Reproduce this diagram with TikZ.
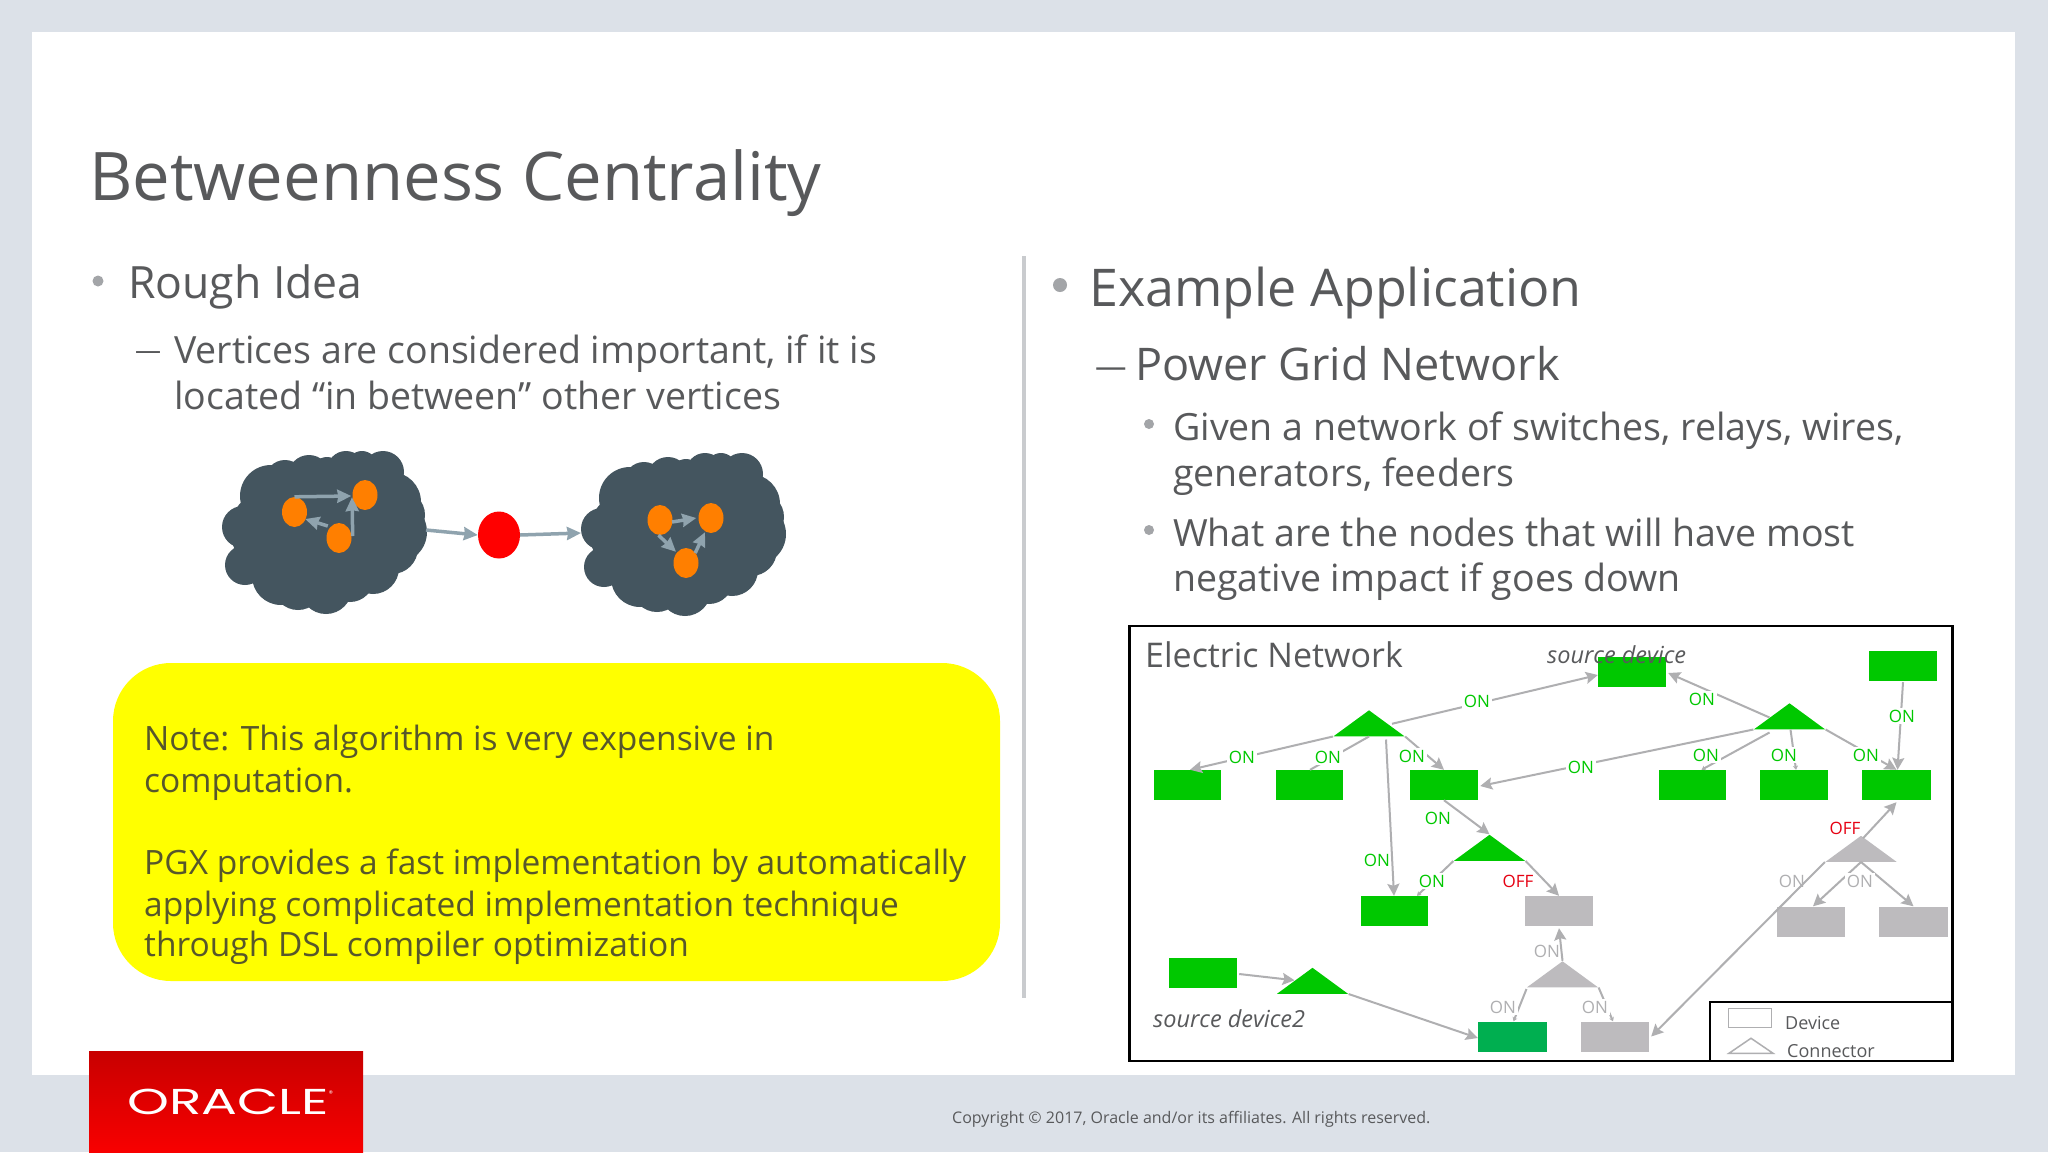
\documentclass[tikz,border=0pt]{standalone}
\usepackage{fontspec}
\usepackage{graphicx}
\setmainfont{Open Sans}
\newfontfamily\logofont{Poppins}
\usetikzlibrary{shapes.geometric,arrows.meta}
\definecolor{pagegray}{HTML}{DCE1E8}
\definecolor{textgray}{HTML}{58595B}
\definecolor{notetext}{HTML}{57572B}
\definecolor{noteyellow}{RGB}{255,255,0}
\definecolor{rulegray}{HTML}{C9CBCE}
\definecolor{bulletgray}{HTML}{A3A5A8}
\definecolor{netgreen}{HTML}{00C800}
\definecolor{darkgreen}{HTML}{00AF50}
\definecolor{offgray}{HTML}{BDBBBE}
\definecolor{linegray}{HTML}{AFAFB1}
\definecolor{offred}{HTML}{E60012}
\definecolor{cloudgray}{HTML}{44555F}
\definecolor{pathblue}{HTML}{8FA3AE}
\definecolor{hotorange}{HTML}{FF7F00}
\definecolor{hotred}{RGB}{255,0,0}
\definecolor{logotop}{HTML}{C80000}
\definecolor{logobottom}{HTML}{F80000}
\tikzset{puffcloud/.pic={
    \foreach \cx/\cy/\cr in {243/527/21, 245/565/20, 281/576/29, 326/588/26, 373/568/26, 396/532/31, 391/502/30, 383/472/21, 346/470/19, 309/476/21, 271/496/31, 320/530/62, 270/530/40, 360/520/45, 258/548/22, 298/585/25, 350/578/24, 392/548/26, 400/515/25, 362/466/15, 327/472/15, 285/480/20}
        \fill [cloudgray] (\cx,\cy) circle (\cr pt);
}}
\begin{document}
\begin{tikzpicture}[x=1pt, y=-1pt, every node/.style={inner sep=0pt}]
    % Styles
    \tikzstyle{device} = [rectangle, minimum width=67, minimum height=30, fill=netgreen]
    \tikzstyle{devoff} = [device, fill=offgray]
    \tikzstyle{connector} = [isosceles triangle, isosceles triangle stretches, shape border rotate=90, minimum width=71, minimum height=26, anchor=lower side, fill=netgreen]
    \tikzstyle{connoff} = [connector, fill=offgray]
    \tikzstyle{link} = [draw=linegray, line width=2pt, -{Stealth[length=12pt,width=12pt,inset=2pt]}]
    \tikzstyle{stub} = [draw=linegray, line width=2pt, -{Stealth[length=4pt,width=5pt,inset=1pt]}]
    \tikzstyle{onlabel} = [font=\fontsize{17}{20}\selectfont, text=netgreen, fill=white, inner sep=1.5pt]
    \tikzstyle{offlabel} = [onlabel, text=offred]
    \tikzstyle{greylabel} = [onlabel, text=linegray]
    \tikzstyle{bare} = [greylabel, fill=none]
    \tikzstyle{title} = [anchor=base west, text=textgray, font=\fontsize{67}{72}\selectfont]
    \tikzstyle{levelone} = [anchor=base west, text=textgray, font=\fontsize{52}{60}\selectfont]
    \tikzstyle{leveltwo} = [anchor=base west, text=textgray, font=\fontsize{45}{52}\selectfont]
    \tikzstyle{body} = [anchor=base west, text=textgray, font=\fontsize{37.5}{44}\selectfont]
    \tikzstyle{note} = [anchor=base west, text=notetext, font=\fontsize{33.5}{40}\selectfont]
    \tikzstyle{dot} = [circle, minimum size=11, fill=bulletgray]
    \tikzstyle{hub} = [ellipse, minimum width=25, minimum height=30, fill=hotorange]
    \tikzstyle{flow} = [draw=pathblue, line width=3.5pt, -{Stealth[length=14pt,width=13pt,inset=1pt]}]
    \tikzstyle{caption} = [anchor=base west, text=textgray, font=\itshape\fontsize{23.5}{28}\selectfont]
    \tikzstyle{legend} = [anchor=base west, text=textgray, font=\fontsize{18}{22}\selectfont]

    % Slide
    \node (page) [rectangle, minimum width=2048, minimum height=1152, fill=pagegray] at (1024,576) {};
    \node (sheet) [rectangle, minimum width=1983, minimum height=1043, fill=white] at (1023.5,553.5) {};
    \useasboundingbox (0,0) rectangle (2048,1152);
    \node (logo) [rectangle, minimum width=274, minimum height=101, top color=logotop, bottom color=logobottom] at (226,1101.5) {};
    \node (oracle) [anchor=base west, text=white, font=\logofont\fontsize{36}{40}\selectfont] at (127,1114) {\scalebox{1.48}[1]{ORACLE}\raisebox{18pt}{\fontsize{8}{8}\selectfont ®}};
    \node (copyright) [anchor=base west, text=textgray, font=\fontsize{16}{20}\selectfont] at (952,1123) {Copyright © 2017, Oracle and/or its affiliates. All rights reserved.};
    \node (heading) [title] at (89,200) {Betweenness Centrality};
    \node (divider) [rectangle, minimum width=4, minimum height=742, fill=rulegray] at (1024,627) {};

    % Left column
    \node (dotidea) [dot] at (98,281) {};
    \node (idea) [levelone, font=\fontsize{44.5}{52}\selectfont] at (128,298) {Rough Idea};
    \node (dashidea) [body, font=\fontsize{26}{30}\selectfont] at (135,359) {—};
    \node (ideaa) [body] at (174,363) {Vertices are considered important, if it is};
    \node (ideab) [body] at (174,409) {located “in between” other vertices};

    % Clouds
    \pic at (0,0) {puffcloud};
    \pic at (359,2) {puffcloud};
    \node (oa) [hub] at (294.5,512) {};
    \node (ob) [hub] at (365,495) {};
    \node (oc) [hub] at (339,538) {};
    \node (pa) [hub] at (660,520) {};
    \node (pb) [hub] at (711,518) {};
    \node (pc) [hub] at (686,563) {};
    \node (centre) [ellipse, minimum width=42, minimum height=47, fill=hotred] at (499,535) {};
    \coordinate (cloudout) at (426,530);
    \coordinate (cloudin) at (581,533);
    \draw [flow] (oa.north) -- ([xshift=-1pt,yshift=-1pt]ob.west);
    \draw [flow] ([xshift=1pt,yshift=2pt]oc.east) -- ([xshift=-13pt,yshift=13pt]ob.south);
    \draw [flow] ([xshift=1.5pt,yshift=12pt]oc.west) -- ([xshift=-2pt,yshift=-7pt]oa.east);
    \draw [flow] (cloudout) -- (centre.west);
    \draw [flow] (centre.east) -- (cloudin);
    \draw [flow] ([xshift=12pt,yshift=-2pt]pa.center) -- ([xshift=-2pt]pb.west);
    \draw [flow] ([xshift=-1.5pt]pa.south) -- ([xshift=-10pt,yshift=-4pt]pc.north);
    \draw [flow] ([xshift=-3.5pt,yshift=10pt]pc.east) -- ([xshift=-6pt,yshift=1pt]pb.south);

    % Note
    \node (notebox) [rectangle, rounded corners=58, minimum width=887, minimum height=318, fill=noteyellow] at (556.5,822) {};
    \node (notea) [note] at (144,750) {Note: This algorithm is very expensive in};
    \node (noteb) [note] at (144,792) {computation.};
    \node (notec) [note] at (144,874) {PGX provides a fast implementation by automatically};
    \node (noted) [note] at (144,916) {applying complicated implementation technique};
    \node (notee) [note] at (144,956) {through DSL compiler optimization};

    % Right column
    \node (dotapp) [dot, minimum size=14] at (1060,285) {};
    \node (app) [levelone] at (1089,306) {Example Application};
    \node (dashgrid) [leveltwo, font=\fontsize{31.5}{36}\selectfont] at (1095,377) {—};
    \node (grid) [leveltwo] at (1135,380) {Power Grid Network};
    \node (dotgiven) [dot, minimum size=10] at (1149,424) {};
    \node (givena) [body] at (1173,440) {Given a network of switches, relays, wires,};
    \node (givenb) [body] at (1173,486) {generators, feeders};
    \node (dotwhat) [dot, minimum size=10] at (1149,530) {};
    \node (whata) [body] at (1173,546) {What are the nodes that will have most};
    \node (whatb) [body] at (1173,591) {negative impact if goes down};

    % Network frame
    \node (frame) [rectangle, draw=black, line width=2.5pt, minimum width=823, minimum height=435] at (1541,843.5) {};
    \node (nettitle) [anchor=base west, text=textgray, font=\fontsize{34}{40}\selectfont] at (1145,667) {Electric Network};

    % Devices
    \node (da) [device] at (1187,785) {};
    \node (db) [device] at (1309,785) {};
    \node (dc) [device, minimum width=68] at (1444,785) {};
    \node (dd) [device] at (1394,911) {};
    \node (de) [devoff, minimum width=68] at (1559,911) {};
    \node (source) [device, minimum width=68] at (1632,672) {};
    \node (df) [device, minimum width=68] at (1903,666) {};
    \node (dg) [device] at (1692.5,785) {};
    \node (dh) [device, minimum width=68] at (1794,785) {};
    \node (di) [device, minimum width=69] at (1896.5,785) {};
    \node (dj) [devoff, minimum width=68] at (1811,921.5) {};
    \node (dk) [devoff, minimum width=69] at (1913.5,921.5) {};
    \node (sourceb) [device, minimum width=68] at (1203,972.5) {};
    \node (dl) [device, minimum width=69, fill=darkgreen] at (1512.5,1036.5) {};
    \node (dm) [devoff, minimum width=68] at (1615,1036.5) {};

    % Connectors
    \node (ta) [connector] at (1369,736.5) {};
    \node (tb) [connector] at (1489.5,861) {};
    \node (tc) [connector] at (1789.5,729.5) {};
    \node (td) [connoff] at (1861,862) {};
    \node (te) [connoff] at (1562.5,987.5) {};
    \node (tf) [connector] at (1312.5,994) {};

    % Arrows
    \draw [link] ([xshift=23pt,yshift=-14pt]ta.apex) -- ([yshift=-3pt]source.west);
    \draw [link] (ta.left corner) -- ([xshift=3pt]da.north);
    \draw [draw=linegray, line width=2pt] (ta.lower side) -- ([xshift=1pt]db.north);
    \draw [link] (ta.right corner) -- (dc.north);
    \draw [link] ([xshift=17pt,yshift=-3pt]ta.lower side) -- (dd.north);
    \draw [link] (dc.south) -- (tb.apex);
    \draw [link] (tc.left corner) -- ([xshift=2pt,yshift=-1pt]dc.east);
    \draw [link] ([xshift=-20pt,yshift=12pt]tc.lower side) -- ([xshift=2pt,yshift=-1pt]source.east);
    \draw [stub] ([xshift=-20pt,yshift=-3pt]tc.lower side) -- ([xshift=9pt]dg.north);
    \draw [stub] ([xshift=1pt]tc.lower side) -- ([xshift=2pt]dh.north);
    \draw [link] (tc.right corner) -- (di.north);
    \draw [link] ([yshift=-1pt]df.south) -- ([xshift=1pt]di.north);
    \draw [link] ([xshift=2pt,yshift=-3pt]td.apex) -- ([yshift=-2pt]di.south);
    \draw [link] (td.left corner) -- ([xshift=2pt]dm.east);
    \draw [link] (td.lower side) -- ([xshift=2pt]dj.north);
    \draw [link] (td.lower side) -- (dk.north);
    \draw [link] (tb.right corner) -- (de.north);
    \draw [stub] (tb.left corner) -- ([xshift=23pt]dd.north);
    \draw [link] (te.apex) -- ([yshift=-2pt]de.south);
    \draw [stub] ([xshift=-36pt,yshift=-1.5pt]te.lower side) -- ([xshift=1pt]dl.north);
    \draw [stub] (te.right corner) -- ([xshift=-2pt]dm.north);
    \draw [link] ([xshift=2pt,yshift=-1.5pt]sourceb.east) -- ([xshift=-18pt,yshift=-13pt]tf.apex);
    \draw [link] (tf.right corner) -- ([yshift=-1.5pt]dl.west);

    % Labels
    \node (la) [onlabel] at (1477,701) {ON};
    \node (lb) [onlabel] at (1242,757) {ON};
    \node (lc) [onlabel] at (1328,757) {ON};
    \node (ld) [onlabel] at (1412,756) {ON};
    \node (le) [onlabel, fill=none] at (1377,860) {ON};
    \node (lf) [onlabel, fill=none] at (1438,818) {ON};
    \node (lg) [onlabel] at (1581,767) {ON};
    \node (lh) [onlabel] at (1702,699) {ON};
    \node (li) [onlabel] at (1706,755) {ON};
    \node (lj) [onlabel] at (1784,755) {ON};
    \node (lk) [onlabel] at (1866,755) {ON};
    \node (ll) [onlabel] at (1902,716) {ON};
    \node (lm) [offlabel] at (1845,828) {OFF};
    \node (ln) [bare] at (1792,881) {ON};
    \node (lo) [greylabel] at (1860,881) {ON};
    \node (lp) [offlabel] at (1518,881) {OFF};
    \node (lq) [onlabel] at (1432,881) {ON};
    \node (lr) [bare] at (1547,951) {ON};
    \node (ls) [greylabel] at (1503,1007) {ON};
    \node (lt) [greylabel] at (1595,1007) {ON};

    % Captions
    \node (capa) [caption] at (1547,663) {source device};
    \node (capb) [caption] at (1153,1027) {source device2};

    % Legend
    \node (legendbox) [rectangle, draw=black, line width=2.5pt, minimum width=243, minimum height=59, anchor=north west] at (1708.75,1000.75) {};
    \node (legdev) [rectangle, draw=linegray, line width=1.5pt, minimum width=43, minimum height=19] at (1750,1018) {};
    \node (legcon) [connector, fill=none, draw=linegray, line width=1.5pt, minimum width=44, minimum height=15] at (1751,1054) {};
    \node (legdevtext) [legend] at (1785,1029) {Device};
    \node (legcontext) [legend] at (1787,1057) {Connector};
\end{tikzpicture}
\end{document}
